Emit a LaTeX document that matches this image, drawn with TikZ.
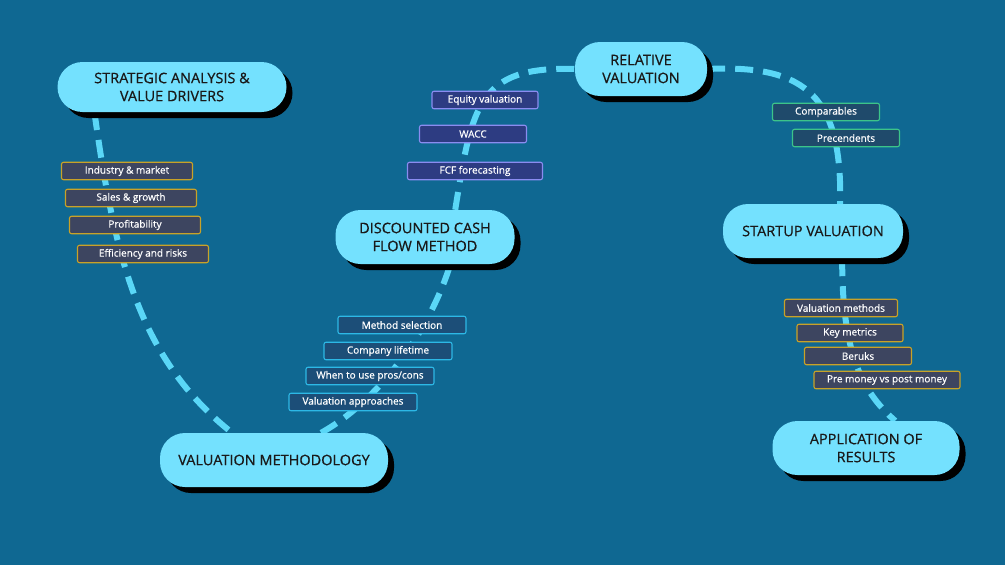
\documentclass[tikz,border=0pt]{standalone}
\usepackage{fontspec}
\setmainfont{Open Sans}[FakeBold=0.6]
\newfontfamily\heavyfont{Open Sans}[FakeBold=0.6]
\usetikzlibrary{positioning,backgrounds,shadows}
\definecolor{ocean}{HTML}{0F6892}
\definecolor{skyfill}{HTML}{74E1FE}
\definecolor{trailblue}{HTML}{5AD7F7}
\definecolor{goldline}{HTML}{C9A227}
\definecolor{slate}{HTML}{3D4560}
\definecolor{cyanline}{HTML}{2DB8E6}
\definecolor{deepblue}{HTML}{1C4E78}
\definecolor{violetline}{HTML}{8A8CF0}
\definecolor{indigo}{HTML}{2D3C82}
\definecolor{greenline}{HTML}{3CC48A}
\definecolor{pinegrey}{HTML}{1F4A6B}
\tikzset{
    %Define style for topic boxes
    topic/.style={
           rectangle,
           rounded corners=25pt,
           fill=skyfill,
           minimum height=54pt,
           align=center,
           font=\heavyfont\fontsize{14.5}{18}\selectfont,
           text=black!90,
           drop shadow={shadow xshift=6pt, shadow yshift=-6pt, opacity=1, fill=black}},
    %Define style for small tags
    tag/.style={
           rectangle,
           rounded corners=2pt,
           line width=1.1pt,
           minimum height=17.5pt,
           inner sep=0pt,
           font=\heavyfont\fontsize{10}{12}\selectfont,
           text=white},
    goldtag/.style={tag, draw=goldline, fill=slate},
    cyantag/.style={tag, draw=cyanline, fill=deepblue, minimum width=128pt},
    violettag/.style={tag, draw=violetline, fill=indigo},
    greentag/.style={tag, draw=greenline, fill=pinegrey, minimum width=107pt},
    % Define dashed trail style
    trail/.style={
           line width=6pt,
           draw=trailblue,
           dash pattern=on 18pt off 10pt}
}
\begin{document}
\begin{tikzpicture}[x=1pt,y=-1pt]
\useasboundingbox (0,0) rectangle (1005,565);
\begin{scope}[on background layer]
\fill[ocean] (0,0) rectangle (1005,565);
\end{scope}
 %topics
\node[topic, minimum width=229pt, minimum height=50pt] (strat) at (172,87) {STRATEGIC ANALYSIS \&\\VALUE DRIVERS};
\node[topic, minimum width=228pt] (method) at (274,460) {VALUATION METHODOLOGY};
\node[topic, minimum width=179pt] (dcf) at (425,237) {DISCOUNTED CASH\\FLOW METHOD};
\node[topic, minimum width=132pt] (relval) at (641,69) {RELATIVE\\VALUATION};
\node[topic, minimum width=180pt] (startup) at (813,231) {STARTUP VALUATION};
\node[topic, minimum width=187pt] (results) at (866,448) {APPLICATION OF\\RESULTS};
 %tags
\node[goldtag, minimum width=131pt] (industry) at (127,171) {Industry \& market};
\node[goldtag, minimum width=131pt] (sales) at (131,198) {Sales \& growth};
\node[goldtag, minimum width=131pt] (profit) at (135,225) {Profitability};
\node[goldtag, minimum width=131pt] (risks) at (143,254) {Efficiency and risks};
\node[cyantag] (selection) at (402,325) {Method selection};
\node[cyantag] (lifetime) at (388,351) {Company lifetime};
\node[cyantag] (proscons) at (370,376) {When to use pros/cons};
\node[cyantag] (approaches) at (353,402) {Valuation approaches};
\node[violettag, minimum width=106pt] (equity) at (485,100) {Equity valuation};
\node[violettag, minimum width=107pt] (wacc) at (473,134) {WACC};
\node[violettag, minimum width=135pt] (fcf) at (475,171) {FCF forecasting};
\node[greentag] (comps) at (826,112) {Comparables};
\node[greentag] (precs) at (846,138) {Precendents};
\node[goldtag, minimum width=113pt] (vmethods) at (841,308) {Valuation methods};
\node[goldtag, minimum width=106pt] (metrics) at (850,333) {Key metrics};
\node[goldtag, minimum width=107pt] (beruks) at (858,356) {Beruks};
\node[goldtag, minimum width=146pt] (prepost) at (887,380) {Pre money vs post money};
 %trail
\begin{scope}[on background layer]
\draw[trail] (strat.198) .. controls (115,260) and (140,360) .. (method.147);
\draw[trail] (method.30) .. controls (380,400) and (430,330) .. (dcf.313);
\draw[trail] (dcf.42) .. controls (472,105) and (478,66) .. (relval.west);
\draw[trail] (relval.east) .. controls (810,64) and (842,100) .. (startup.45);
\draw[trail] (startup.317) .. controls (842,350) and (860,390) .. (results.43);
\end{scope}
\end{tikzpicture}
\end{document}
